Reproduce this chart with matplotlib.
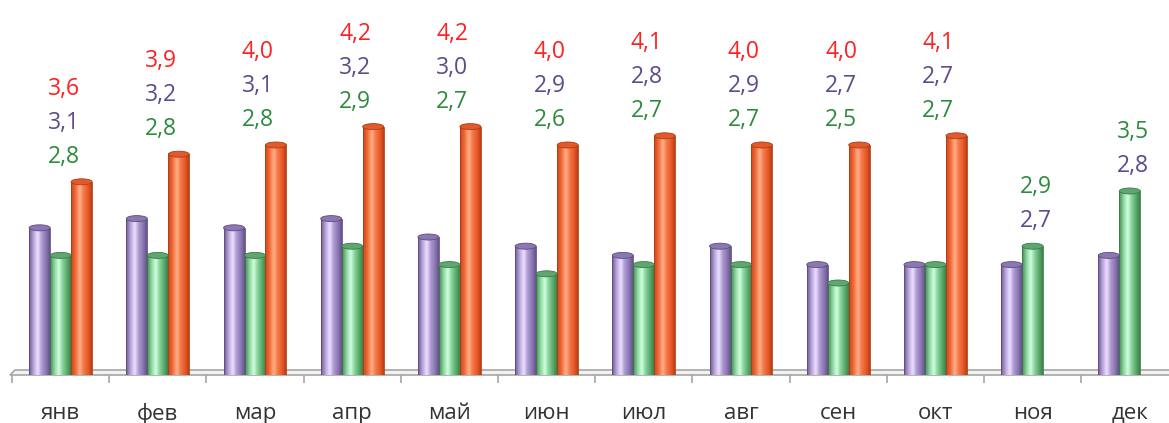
import numpy as np
import matplotlib
matplotlib.use('Agg')
import matplotlib.pyplot as plt
from matplotlib.colors import LinearSegmentedColormap
from matplotlib.patches import Ellipse, Polygon

# ---- data ----
months = ['янв', 'фев', 'мар', 'апр', 'май', 'июн', 'июл', 'авг', 'сен', 'окт', 'ноя', 'дек']
purple_vals = [3.1, 3.2, 3.1, 3.2, 3.0, 2.9, 2.8, 2.9, 2.7, 2.7, 2.7, 2.8]
green_vals = [2.8, 2.8, 2.8, 2.9, 2.7, 2.6, 2.7, 2.7, 2.5, 2.7, 2.9, 3.5]
red_vals = [3.6, 3.9, 4.0, 4.2, 4.2, 4.0, 4.1, 4.0, 4.0, 4.1, np.nan, np.nan]

plt.rcParams['font.family'] = ['Open Sans', 'DejaVu Sans']

W, H, DPI = 1169, 423, 100
fig = plt.figure(figsize=(W / DPI, H / DPI), dpi=DPI)
base_px = 375
x_left_px = 12
cat_px = 97.2
ax = fig.add_axes([x_left_px / W, (H - base_px) / H, 12 * cat_px / W, base_px / H])
px_per_unit = 92.0
ymin = 1.5
ymax = ymin + base_px / px_per_unit
for s in ax.spines.values():
    s.set_visible(False)
ax.set_yticks([])

x = np.arange(len(months))
bw = 0.216

series = [
    dict(vals=purple_vals, off=-bw, grad=['#6c5890', '#b8a6da', '#ece0ff', '#b09cd4', '#8a76b0', '#65518a'],
         cap='#8b78b2', edge='#5e4b80', lab='#5f4a8b'),
    dict(vals=green_vals, off=0.0, grad=['#3f8a50', '#8fd6a0', '#cfffe0', '#8ad49c', '#5aa86c', '#3a8049'],
         cap='#5ea86f', edge='#3b7a48', lab='#2e8b3e'),
    dict(vals=red_vals, off=bw, grad=['#c8461a', '#f26a38', '#ffb08a', '#f47a48', '#e8582a', '#b83e14'],
         cap='#e05a2c', edge='#b03c12', lab='#ff2020'),
]
stops = [0.0, 0.22, 0.42, 0.6, 0.82, 1.0]

# floor
fh = 5 / px_per_unit
floor = Polygon([(-0.52, ymin), (11.6, ymin), (11.6, ymin + fh), (-0.47, ymin + fh)],
                closed=True, facecolor='#f2f2f2', edgecolor='#a6a6a6', lw=1.2, zorder=1, clip_on=False)
ax.add_patch(floor)

cap_h = 6 / px_per_unit
grad = np.linspace(0, 1, 256).reshape(1, -1)
for s in series:
    vals = np.array(s['vals'], dtype=float)
    cmap = LinearSegmentedColormap.from_list('g', list(zip(stops, s['grad'])))
    bars = ax.bar(x + s['off'], vals - ymin, width=bw, bottom=ymin, facecolor='none',
                  edgecolor=s['edge'], linewidth=0.6, zorder=3)
    for b, v in zip(bars, vals):
        if np.isnan(v):
            continue
        x0 = b.get_x()
        x1 = x0 + b.get_width()
        im = ax.imshow(grad, cmap=cmap, extent=(x0, x1, ymin, v), aspect='auto',
                       zorder=2, interpolation='bilinear')
        im.set_clip_path(b)
        ax.add_patch(Ellipse((x0 + b.get_width() / 2, v), b.get_width(), cap_h,
                             facecolor=s['cap'], edgecolor=s['edge'], lw=0.6, zorder=4))
ax.set_xlim(-0.5, 11.5)
ax.set_ylim(ymin, ymax)

# value labels, stacked above the tallest bar of each month
gap = 0.27
step = 0.37
for i in range(len(months)):
    items = []
    for order, s in enumerate(series):
        v = s['vals'][i]
        if not np.isnan(v):
            items.append((v, order, s['lab']))
    items.sort(key=lambda t: (-t[0], t[1]))
    top = max(t[0] for t in items)
    n = len(items)
    for k, (v, order, col) in enumerate(items):
        y = top + gap + (n - 1 - k) * step
        ax.text(x[i] + 0.03, y, f'{v:.1f}'.replace('.', ','), ha='center', va='center',
                fontsize=16.5, color=col, zorder=5)

# axis ticks
ax.set_xticks(np.arange(-0.5, 12, 1))
ax.set_xticklabels([])
ax.tick_params(axis='x', which='major', length=6, width=1.2, color='#a6a6a6', direction='out')
ax.set_xticks(x, minor=True)
ax.set_xticklabels(months, minor=True)
ax.tick_params(axis='x', which='minor', length=0, pad=20, labelsize=16, labelcolor='#333333')

fig.savefig('out.png', dpi=DPI)
